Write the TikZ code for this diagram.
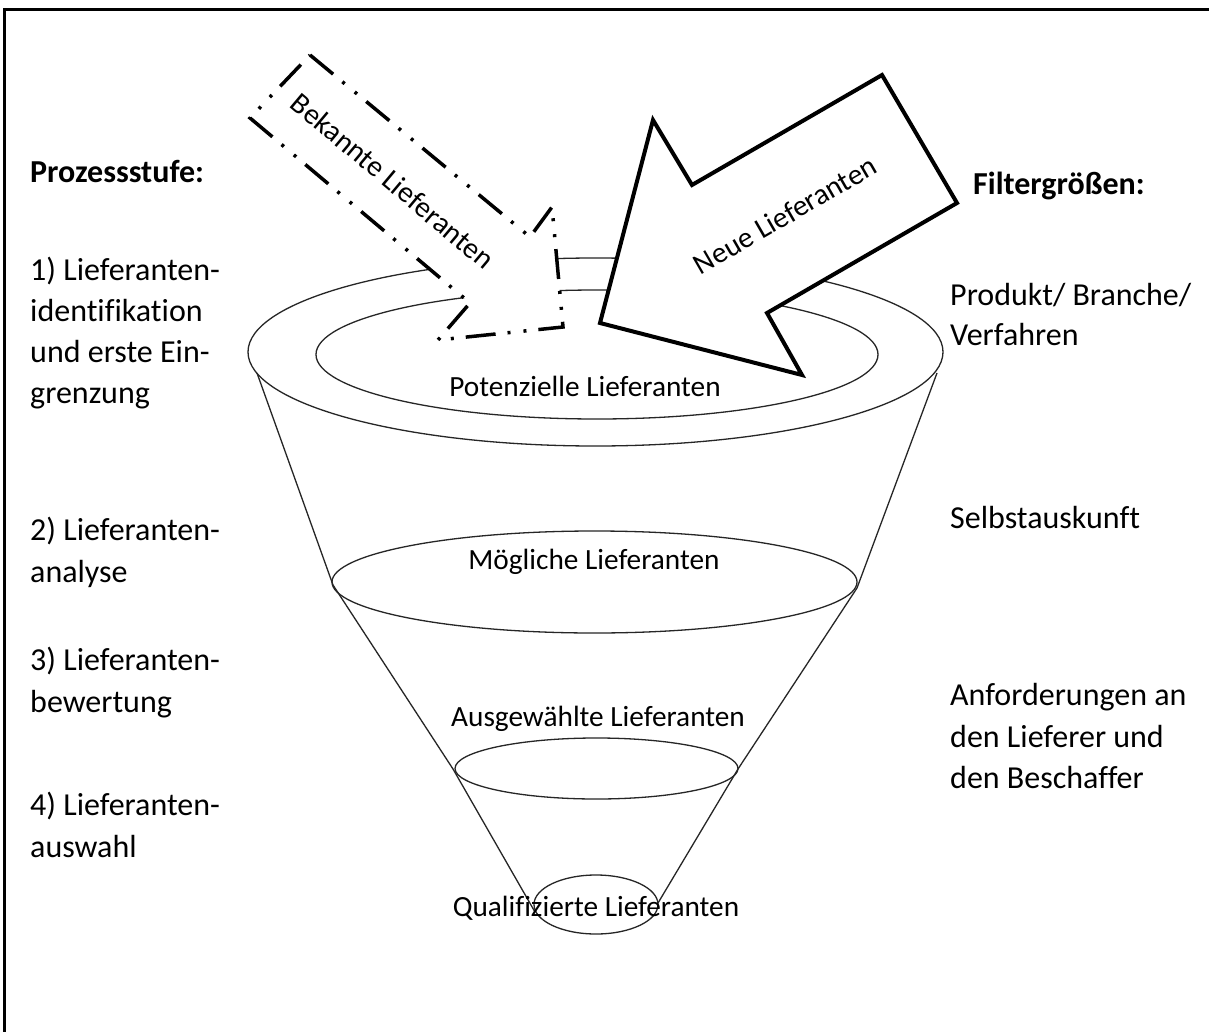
\documentclass[tikz,border=0pt]{standalone}
\usepackage{fontspec}
\setmainfont{Carlito}[Ligatures=NoCommon]
\begin{document}
\begin{tikzpicture}[x=1pt,y=-1pt,
  sidetext/.style={anchor=base west,inner sep=0pt,font=\fontsize{32}{41}\selectfont},
  sidehead/.style={sidetext,font=\fontsize{32}{41}\selectfont\bfseries},
  funnellabel/.style={anchor=base,inner sep=0pt,font=\fontsize{29.3}{36}\selectfont},
  arrowlabel/.style={inner sep=0pt,font=\fontsize{29.5}{36}\selectfont},
  funnelline/.style={draw=black!85,line width=1.3pt},
  newarrow/.style={draw=black,fill=white,line width=4pt,line join=miter},
  knownarrow/.style={draw=black,fill=white,line width=3.5pt,line join=miter,
    dash pattern=on 30pt off 12pt on 3pt off 13pt on 3pt off 12pt},
  framebar/.style={fill=black}]
\fill[white] (0,0) rectangle (1209,1032);
\useasboundingbox (0,0) rectangle (1209,1032);
% frame (left and top edges only)
\fill[framebar] (2.5,8.5) rectangle (1209,11.5);
\fill[framebar] (2.5,8.5) rectangle (5.5,1032);
% funnel sides
\coordinate (o1) at (257,373);
\coordinate (o2) at (937,373);
\coordinate (m1) at (333,585);
\coordinate (m2) at (857,588);
\coordinate (a1) at (453,769);
\coordinate (a2) at (738,769);
\coordinate (q1) at (535,912);
\coordinate (q2) at (658,903);
\draw[funnelline] (o1) -- (m1) -- (a1) -- (q1);
\draw[funnelline] (o2) -- (m2) -- (a2) -- (q2);
% ellipses
\draw[funnelline] (595.5,352) ellipse [x radius=347.5, y radius=94];
\draw[funnelline] (597,354.5) ellipse [x radius=281, y radius=64.5];
\draw[funnelline] (594.5,582) ellipse [x radius=262.5, y radius=51];
\draw[funnelline] (596.5,768.5) ellipse [x radius=141.5, y radius=30.5];
\draw[funnelline] (596,904.5) ellipse [x radius=62, y radius=29.5];
% funnel labels
\node[funnellabel] (pot) at (585,396) {Potenzielle Lieferanten};
\node[funnellabel] (moe) at (594,569) {Mögliche Lieferanten};
\node[funnellabel] (aus) at (598,726) {Ausgewählte Lieferanten};
\node[funnellabel] (qua) at (596,916) {Qualifizierte Lieferanten};
% arrows
\draw[knownarrow] (310,55) -- (530,237) -- (552,207) -- (563,327) -- (438,340) -- (470,303) -- (250,118) -- cycle;
\node[arrowlabel,rotate=-40] (bek) at (393,181) {Bekannte Lieferanten};
\draw[newarrow] (882,75) -- (692,185) -- (653,120) -- (600,323) -- (802,375) -- (767,313) -- (957,203) -- cycle;
\node[arrowlabel,rotate=30] (neu) at (785,215) {Neue Lieferanten};
% left column
\node[sidehead] (ps) at (30,183) {Prozessstufe:};
\node[sidetext] (l1a) at (30,280) {1) Lieferanten-};
\node[sidetext] (l1b) at (30,321) {identifikation};
\node[sidetext] (l1c) at (30,362) {und erste Ein-};
\node[sidetext] (l1d) at (30,403) {grenzung};
\node[sidetext] (l2a) at (30,540) {2) Lieferanten-};
\node[sidetext] (l2b) at (30,582) {analyse};
\node[sidetext] (l3a) at (30,670) {3) Lieferanten-};
\node[sidetext] (l3b) at (30,712) {bewertung};
\node[sidetext] (l4a) at (30,815) {4) Lieferanten-};
\node[sidetext] (l4b) at (30,857) {auswahl};
% right column
\node[sidehead] (fg) at (973,195) {Filtergrößen:};
\node[sidetext] (r1a) at (950,305) {Produkt/ Branche/};
\node[sidetext] (r1b) at (950,345) {Verfahren};
\node[sidetext] (r2) at (950,528) {Selbstauskunft};
\node[sidetext] (r3a) at (950,705) {Anforderungen an};
\node[sidetext] (r3b) at (950,747) {den Lieferer und};
\node[sidetext] (r3c) at (950,788) {den Beschaffer};
\end{tikzpicture}
\end{document}
